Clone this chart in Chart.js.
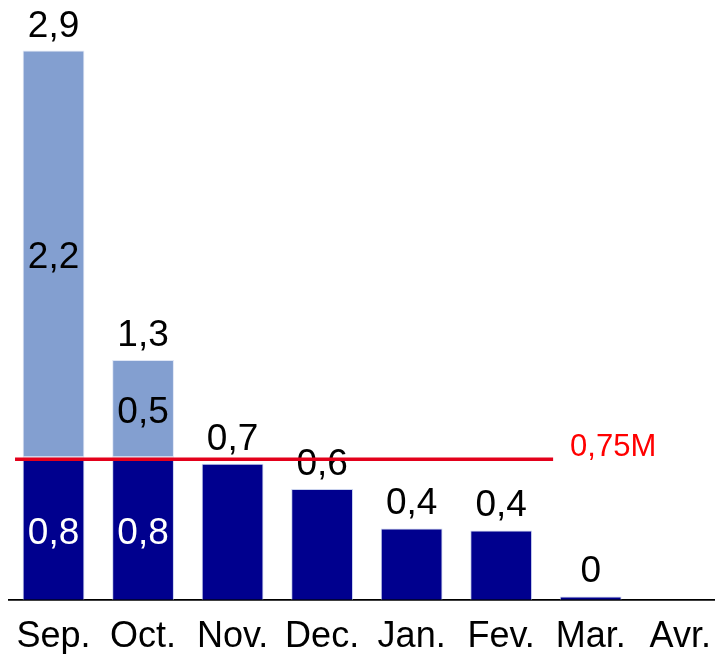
<!DOCTYPE html>
<html>
<head>
<meta charset="utf-8">
<script src="https://cdn.jsdelivr.net/npm/chart.js@4/dist/chart.umd.min.js"></script>
<style>
  html, body { margin: 0; padding: 0; background: #fff; overflow: hidden; }
  #wrap { width: 730px; height: 654px; }
</style>
</head>
<body>
<div id="wrap"><canvas id="grafico"></canvas></div>
<script>
// Données
const mois = ["Sep.", "Oct.", "Nov.", "Dec.", "Jan.", "Fev.", "Mar.", "Avr."];
const partFoncee = [0.76, 0.76, 0.726, 0.591, 0.381, 0.37, 0.018, null];
const partClaire = [2.17, 0.52, null, null, null, null, null, null];
const etiquettesTotal = ["2,9", "1,3", "0,7", "0,6", "0,4", "0,4", "0", ""];
const etiquettesClaire = ["2,2", "0,5", "", "", "", "", "", ""];
const etiquettesFoncee = ["0,8", "0,8", "", "", "", "", "", ""];
const seuil = 0.75;
const seuilTexte = "0,75M";

const police = "'Liberation Sans', Arial, sans-serif";

// Étiquettes de valeurs + ligne de seuil
const pluginEtiquettes = {
  id: "etiquettes",
  afterDatasetsDraw(chart) {
    const ctx = chart.ctx;
    const x = chart.scales.x, y = chart.scales.y;
    const m0 = chart.getDatasetMeta(0);
    ctx.save();
    ctx.font = "37px " + police;
    ctx.textAlign = "center";
    ctx.textBaseline = "alphabetic";
    mois.forEach((m, i) => {
      const total = (partFoncee[i] || 0) + (partClaire[i] || 0);
      const cx = m0.data[i].x;
      if (etiquettesTotal[i]) {
        ctx.fillStyle = "#000";
        ctx.fillText(etiquettesTotal[i], cx, y.getPixelForValue(total) - 14);
      }
      if (etiquettesClaire[i]) {
        const mid = (y.getPixelForValue(partFoncee[i]) + y.getPixelForValue(total)) / 2;
        ctx.fillStyle = "#000";
        ctx.fillText(etiquettesClaire[i], cx, mid + 14);
      }
      if (etiquettesFoncee[i]) {
        const mid = (y.getPixelForValue(0) + y.getPixelForValue(partFoncee[i])) / 2;
        ctx.fillStyle = "#fff";
        ctx.fillText(etiquettesFoncee[i], cx, mid + 15);
      }
    });
    // ligne de seuil
    const ys = y.getPixelForValue(seuil);
    ctx.strokeStyle = "#e3001b";
    ctx.lineWidth = 3.5;
    ctx.beginPath();
    ctx.moveTo(x.getPixelForValue(-0.43), ys);
    ctx.lineTo(x.getPixelForValue(5.58), ys);
    ctx.stroke();
    ctx.fillStyle = "#ff0000";
    ctx.font = "31px " + police;
    ctx.textAlign = "left";
    ctx.fillText(seuilTexte, x.getPixelForValue(5.77), ys - 3);
    ctx.restore();
  }
};

new Chart(document.getElementById("grafico"), {
  type: "bar",
  data: {
    labels: mois,
    datasets: [
      {
        data: partFoncee,
        backgroundColor: "#00008e",
        borderColor: "#c9d2ee",
        borderWidth: 1,
        borderSkipped: "bottom",
        barPercentage: 0.69,
        categoryPercentage: 1
      },
      {
        data: partClaire,
        backgroundColor: "#839fd0",
        borderColor: "#dfe6f5",
        borderWidth: 1,
        borderSkipped: false,
        barPercentage: 0.69,
        categoryPercentage: 1
      }
    ]
  },
  options: {
    responsive: true,
    maintainAspectRatio: false,
    animation: false,
    layout: { padding: { left: 8, right: 5, top: 0, bottom: -21 } },
    plugins: { legend: { display: false }, tooltip: { enabled: false } },
    scales: {
      x: {
        stacked: true,
        grid: { display: false, drawTicks: false },
        border: { display: true, color: "#000", width: 1.8 },
        ticks: { color: "#000", font: { family: police, size: 36 }, padding: 16, maxRotation: 0, autoSkip: false }
      },
      y: {
        stacked: true,
        display: false,
        min: 0,
        max: 3.2
      }
    }
  },
  plugins: [pluginEtiquettes]
});
</script>
</body>
</html>
